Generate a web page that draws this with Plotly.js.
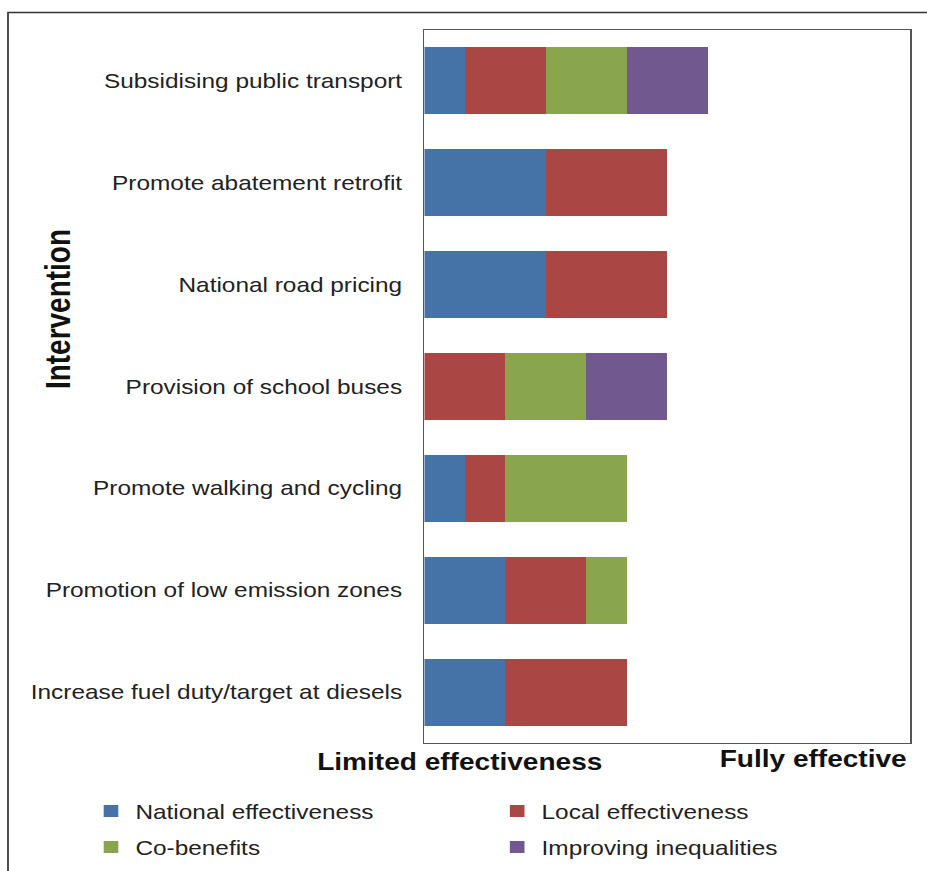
<!DOCTYPE html>
<html>
<head>
<meta charset="utf-8">
<script src="https://cdn.plot.ly/plotly-3.0.1.min.js"></script>
<style>
  html, body { margin: 0; padding: 0; background: #fff; overflow: hidden; }
  /* the figure is laid out at 760 px and widened to 927 px */
  #chart { width: 760px; height: 871px; transform: scaleX(1.219737); transform-origin: 0 0; }
</style>
</head>
<body>
<div id="chart"></div>
<script>
// Interventions, listed top to bottom
const interventions = [
  "Subsidising public transport",
  "Promote abatement retrofit",
  "National road pricing",
  "Provision of school buses",
  "Promote walking and cycling",
  "Promotion of low emission zones",
  "Increase fuel duty/target at diesels"
];

// Scores per criterion (stacked)
const nationalEffectiveness = [1, 3, 3, 0, 1, 2, 2];
const localEffectiveness    = [2, 3, 3, 2, 1, 2, 3];
const coBenefits            = [2, 0, 0, 2, 3, 1, 0];
const improvingInequalities = [2, 0, 0, 2, 0, 0, 0];

const seriesNames  = ["National effectiveness", "Local effectiveness", "Co-benefits", "Improving inequalities"];
const seriesValues = [nationalEffectiveness, localEffectiveness, coBenefits, improvingInequalities];
const seriesColors = ["#4572A7", "#AA4643", "#89A54E", "#71588F"];
// first legend row: national + local; second row: co-benefits + inequalities
const seriesLegend = ["legend", "legend", "legend2", "legend2"];

const FONT = "Liberation Sans, Arial, Helvetica, sans-serif";
const STRETCH = 927 / 760;   // horizontal widening applied by CSS

const traces = seriesNames.map((name, i) => ({
  type: "bar",
  orientation: "h",
  name: name,
  x: seriesValues[i],
  y: interventions,
  marker: { color: seriesColors[i], line: { width: 0 } },
  legend: seriesLegend[i],
  hoverinfo: "x+name"
}));

// plot area in layout pixels
const L = 348, T = 30, W = 398, H = 713, FIG_W = 760, FIG_H = 871;
// convert on-screen pixel positions to paper coordinates
const px = v => (v / STRETCH - L) / W;
const py = v => (T + H - v) / H;

const legendCommon = {
  orientation: "h",
  xanchor: "left",
  yanchor: "middle",
  entrywidth: 288,
  entrywidthmode: "pixels",
  itemwidth: 30,
  font: { family: FONT, size: 20, color: "#222222" },
  bgcolor: "rgba(0,0,0,0)",
  traceorder: "normal",
  itemclick: false,
  itemdoubleclick: false
};

const layout = {
  width: FIG_W,
  height: FIG_H,
  margin: { l: L, r: FIG_W - L - W, t: T, b: FIG_H - T - H, pad: 0, autoexpand: false },
  paper_bgcolor: "#ffffff",
  plot_bgcolor: "#ffffff",
  barmode: "stack",
  bargap: 0.342,
  showlegend: true,
  font: { family: FONT, color: "#222222" },
  xaxis: {
    range: [0, 12],
    showticklabels: false,
    showgrid: false,
    zeroline: false,
    ticks: "",
    showline: true,
    mirror: true,
    linecolor: "#555555",
    linewidth: 1.3,
    fixedrange: true
  },
  yaxis: {
    type: "category",
    autorange: "reversed",
    showgrid: false,
    zeroline: false,
    ticks: "",
    ticklabelstandoff: 13,
    tickfont: { family: FONT, size: 20, color: "#222222" },
    showline: true,
    mirror: true,
    linecolor: "#555555",
    linewidth: 1.3,
    fixedrange: true
  },
  legend: Object.assign({}, legendCommon, { x: (71 - L) / W, y: py(811) }),
  legend2: Object.assign({}, legendCommon, { x: (71 - L) / W, y: py(847) }),
  annotations: [
    {
      text: "<b>Limited effectiveness</b>",
      xref: "paper", yref: "paper",
      x: px(460), y: py(762),
      xanchor: "center", yanchor: "middle",
      showarrow: false,
      font: { family: FONT, size: 23, color: "#111111" }
    },
    {
      text: "<b>Fully effective</b>",
      xref: "paper", yref: "paper",
      x: px(909), y: py(759),
      xanchor: "right", yanchor: "middle",
      showarrow: false,
      font: { family: FONT, size: 23, color: "#111111" }
    },
    {
      text: "<b>Intervention</b>",
      xref: "paper", yref: "paper",
      x: px(57.5), y: py(309),
      xanchor: "center", yanchor: "middle",
      textangle: -90,
      showarrow: false,
      font: { family: FONT, size: 28, color: "#111111" }
    }
  ],
  shapes: [
    {
      // frame around the whole figure
      type: "rect",
      xref: "paper", yref: "paper",
      x0: px(8), x1: px(960),
      y0: py(900), y1: py(12.5),
      line: { color: "#333333", width: 1.4 },
      fillcolor: "rgba(0,0,0,0)",
      layer: "below"
    }
  ]
};

Plotly.newPlot("chart", traces, layout, { displayModeBar: false, staticPlot: true });
</script>
</body>
</html>
